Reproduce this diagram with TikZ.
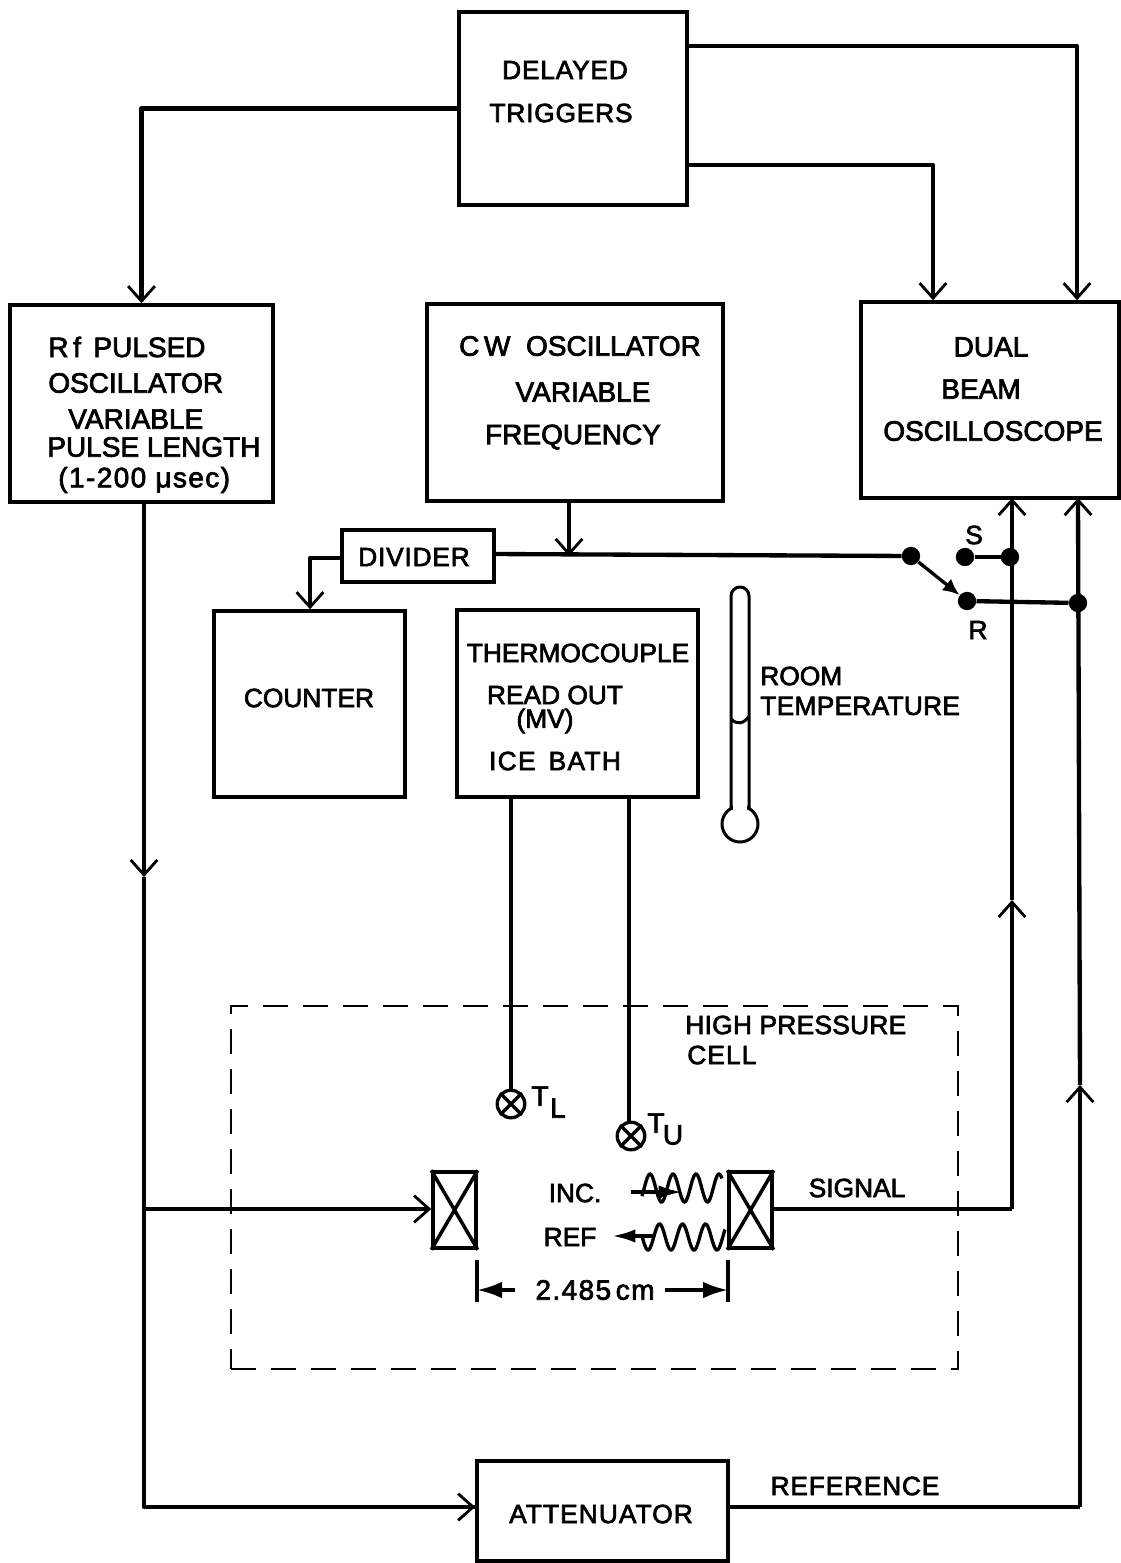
\documentclass[tikz,border=0pt]{standalone}
\usepackage{fontspec}
\setmainfont[FakeBold=2.6]{Liberation Sans}
\usetikzlibrary{arrows.meta,calc}
\tikzset{
  box/.style={draw,line width=2.1pt,rectangle,inner sep=0pt,fill=none},
  conn/.style={line width=2.6pt,line join=round},
  thin conn/.style={line width=2.1pt},
  open/.style={-{Straight Barb[length=9pt,width=16pt,line width=1.7pt]}},
  solid tip/.style={-{Latex[length=15pt,width=10pt]}},
  lbl/.style={inner sep=0pt,font=\fontsize{15.8}{18}\selectfont},
  big/.style={font=\fontsize{16.8}{18}\selectfont},
  lbll/.style={lbl,anchor=west},
  dot/.style={circle,fill=black,inner sep=0pt,minimum size=11pt},
  ring/.style={circle,draw,line width=2pt,inner sep=0pt,minimum size=16.5pt},
  xbox/.style={box,minimum width=25.8pt,minimum height=45.6pt}
}
\begin{document}
\begin{tikzpicture}[x=0.6pt,y=-0.6pt]
\useasboundingbox (0,0) rectangle (1120,1563);
% boxes
\node[box,minimum width=136.8pt,minimum height=115.8pt] (delayed) at (573,108.5) {};
\node[box,minimum width=157.8pt,minimum height=118.2pt] (rf) at (141.5,403.5) {};
\node[box,minimum width=177.6pt,minimum height=118.2pt] (cw) at (575,402.5) {};
\node[box,minimum width=154.8pt,minimum height=117.6pt] (scope) at (990,400) {};
\node[box,minimum width=91.2pt,minimum height=31.2pt] (divider) at (418,556) {};
\node[box,minimum width=114.6pt,minimum height=111.6pt] (counter) at (309.5,704) {};
\node[box,minimum width=144.6pt,minimum height=112.2pt] (thermo) at (577.5,703.5) {};
\node[box,minimum width=150.6pt,minimum height=60pt] (atten) at (602.5,1511) {};
\node[draw,line width=1.5pt,dash pattern=on 15pt off 9pt,inner sep=0pt,minimum width=436.2pt,minimum height=217.8pt] (cell) at (594.5,1187.5) {};
\node[xbox] (tl) at (454.5,1210) {};
\node[xbox] (tr) at (750.5,1210) {};
\draw[thin conn] (tl.north west) -- (tl.south east) (tl.north east) -- (tl.south west);
\draw[thin conn] (tr.north west) -- (tr.south east) (tr.north east) -- (tr.south west);
% labels
\node[lbl] (t1) at (565,70) {\addfontfeature{LetterSpace=3}DELAYED};
\node[lbl] (t2) at (561,113) {\addfontfeature{LetterSpace=3}TRIGGERS};
\node[lbll,big] (t3) at (48,347) {R\,f\, PULSED};
\node[lbll,big] (t4) at (48,383) {OSCILLATOR};
\node[lbll,big] (t5) at (68,419) {VARIABLE};
\node[lbll,big] (t6) at (47,447) {PULSE LENGTH};
\node[lbll,big] (t7) at (58,480) {\addfontfeature{LetterSpace=5}(1-200 μsec)};
\node[lbl,big] (t8) at (580,346) {C\,W\;\;OSCILLATOR};
\node[lbl,big] (t9) at (583,392) {VARIABLE};
\node[lbl,big] (t10) at (573,437) {FREQUENCY};
\node[lbl,big] (t11) at (991,347) {DUAL};
\node[lbl,big] (t12) at (981,389) {BEAM};
\node[lbl,big] (t13) at (993,431) {OSCILLOSCOPE};
\node[lbl] (t14) at (414,557) {\addfontfeature{LetterSpace=3}DIVIDER};
\node[lbl] (t15) at (309,698) {COUNTER};
\node[lbl] (t16) at (578,653) {THERMOCOUPLE};
\node[lbl] (t17) at (555,695) {READ OUT};
\node[lbl] (t18) at (545,721) {(MV)};
\node[lbl] (t19) at (555,761) {\addfontfeature{LetterSpace=5}ICE\, BATH};
\node[lbll] (t20) at (760,676) {ROOM};
\node[lbll] (t21) at (760,706) {\addfontfeature{LetterSpace=1}TEMPERATURE};
\node[lbl] (t22) at (974,535) {S};
\node[lbl] (t23) at (978,630) {R};
\node[lbll] (t24) at (685,1025) {\addfontfeature{LetterSpace=1}HIGH PRESSURE};
\node[lbll] (t25) at (687,1055) {\addfontfeature{LetterSpace=4}CELL};
\node[lbl,big] (t26) at (540,1096) {T};
\node[lbl,big] (t27) at (558,1108) {L};
\node[lbl,big] (t28) at (656,1123) {T};
\node[lbl,big] (t29) at (673,1135) {U};
\node[lbl] (t30) at (575,1193) {INC.};
\node[lbl] (t31) at (570,1237) {REF};
\node[lbl] (t32) at (857,1188) {SIGNAL};
\node[lbl,big] (t33) at (595,1290) {\addfontfeature{LetterSpace=5}2.485\,cm};
\node[lbl] (t34) at (855,1486) {\addfontfeature{LetterSpace=3}REFERENCE};
\node[lbl] (t35) at (601,1514) {\addfontfeature{LetterSpace=4}ATTENUATOR};
% junctions and sensors
\node[dot] (sw) at (911,556) {};
\node[dot] (sS) at (965,557) {};
\node[dot] (sR) at (967,601) {};
\node[dot] (jS) at (1010,557) {};
\node[dot] (jR) at (1078,603) {};
\node[ring] (tlow) at (511,1104) {};
\node[ring] (tup) at (631,1136) {};
\draw[thin conn] (tlow.north west) -- (tlow.south east) (tlow.north east) -- (tlow.south west);
\draw[thin conn] (tup.north west) -- (tup.south east) (tup.north east) -- (tup.south west);
% free coordinates
\coordinate (a1) at (1077,46);
\coordinate (a2) at (933,165);
\coordinate (a3) at (687,46);
\coordinate (a4) at (687,165);
\coordinate (b1) at (144,502);
\coordinate (b2) at (144,877);
\coordinate (b3) at (144,1507);
\coordinate (b4) at (144,1209);
\coordinate (c1) at (569,556);
\coordinate (d1) at (310,558);
\coordinate (d2) at (342,558);
\coordinate (d3) at (494,554);
\coordinate (e1) at (1012,1209);
\coordinate (e2) at (1012,900);
\coordinate (e3) at (1012,498);
\coordinate (f1) at (1080,1507);
\coordinate (f2) at (1080,1085);
\coordinate (f3) at (1078,498);
\coordinate (g1) at (511,797);
\coordinate (g2) at (629,797);
\coordinate (g3) at (629,1122);
\coordinate (h1) at (477,1260);
\coordinate (h2) at (477,1302);
\coordinate (h3) at (728,1260);
\coordinate (h4) at (728,1302);
\coordinate (h5) at (477,1290);
\coordinate (h6) at (515,1290);
\coordinate (h7) at (665,1290);
\coordinate (h8) at (728,1290);
\coordinate (i1) at (682,1192);
\coordinate (i2) at (631,1192);
\coordinate (i3) at (655,1236);
\coordinate (i4) at (612,1236);
% connectors
\draw[conn,open] (delayed.west) -| (rf.north);
\draw[conn,open] (a3) -- (a1) -- (a1 |- scope.north);
\draw[conn,open] (a4) -- (a2) -- (a2 |- scope.north);
\draw[conn,open] (b1) -- (b2);
\draw[conn] (b2) -- (b3) -- (b3 -| atten.west);
\draw[conn,open] (b3) -- (b3 -| atten.west);
\draw[conn,thin conn,open] (b4) -- (b4 -| tl.west);
\draw[conn,open] (c1 |- cw.south) -- (c1);
\draw[conn] (d3) -- (sw);
\draw[conn,open] (d2) -- (d1) -- (d1 |- counter.north);
\draw[conn,line width=2pt,-{Latex[length=10pt,width=9pt]}] (sw) -- (sR);
\draw[conn] (sS) -- (jS);
\draw[conn] (sR) -- (jR);
\draw[conn] (tr.east |- e1) -- (e1);
\draw[conn,open] (e1) -- (e2);
\draw[conn,open] (e2) -- (e3);
\draw[conn] (atten.east |- f1) -- (f1);
\draw[conn,open] (f1) -- (f2);
\draw[conn,open] (f2) -- (f3);
\draw[conn] (g1) -- (tlow.north);
\draw[conn] (g2) -- (g3);
% dimension
\draw[thin conn] (h1) -- (h2) (h3) -- (h4);
\draw[thin conn,solid tip] (h6) -- (h5);
\draw[thin conn,solid tip] (h7) -- (h8);
% waves
\draw[line width=2pt,smooth] plot[domain=642:722,samples=80] (\x,{1188+14*sin((\x-650)*15.65-90)});
\draw[line width=2pt,smooth] plot[domain=642:725,samples=80] (\x,{1237+13*sin((\x-648)*15.65+90)});
\draw[thin conn,-{Latex[length=14pt,width=8pt]}] (i2) -- (i1);
\draw[thin conn,-{Latex[length=14pt,width=8pt]}] (i3) -- (i4);
% thermometer
\coordinate (th1) at (731,810);
\coordinate (th2) at (749,810);
\draw[line width=1.8pt] (th1) -- (731,596) arc[start angle=180,end angle=360,x radius=9,y radius=9] -- (th2);
\draw[line width=1.8pt] (731,719) .. controls (737,725) and (744,724) .. (749,716);
\draw[line width=1.8pt] (740,824) circle[radius=18];
\fill[white] (733,800) rectangle (747,811);
\end{tikzpicture}
\end{document}
